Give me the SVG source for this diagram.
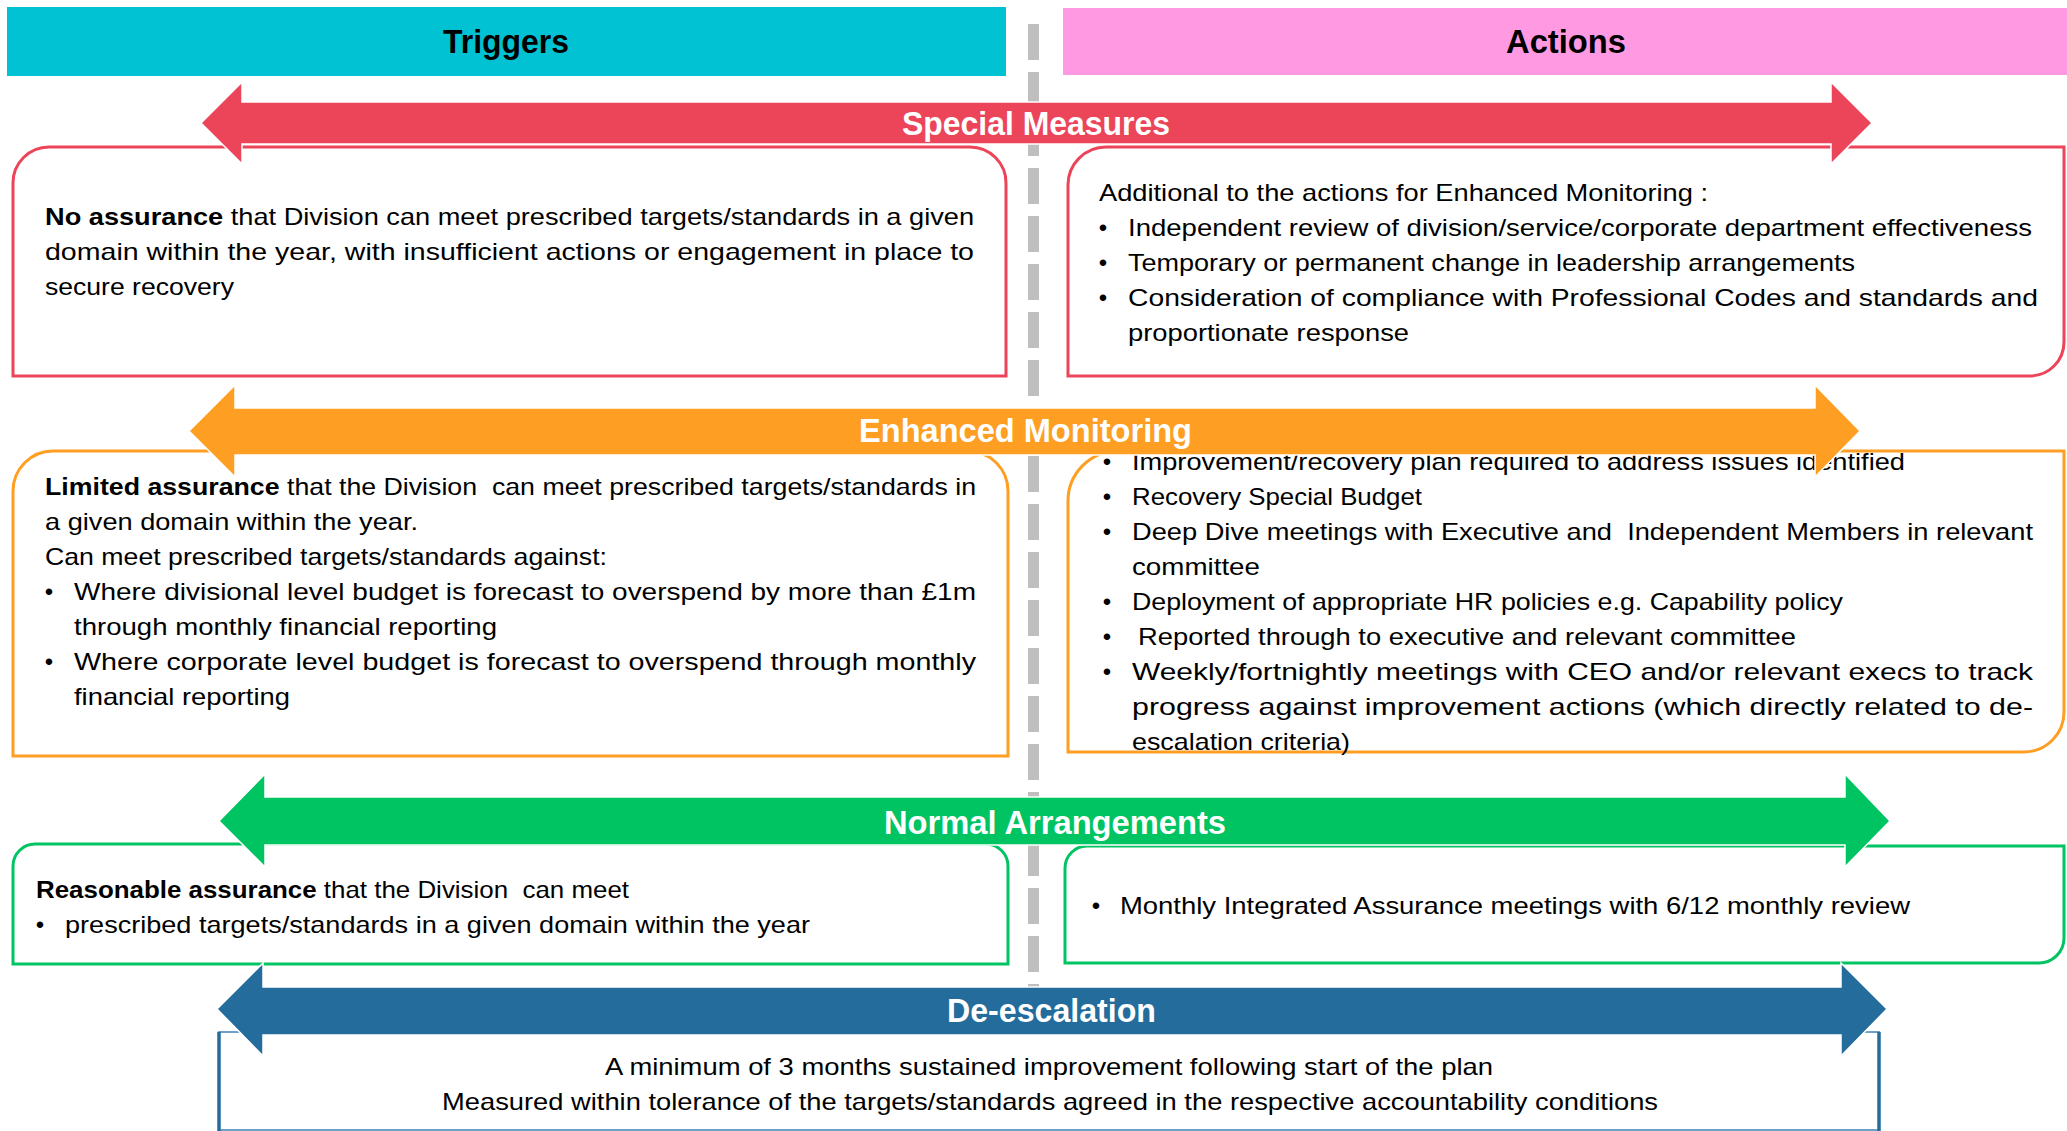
<svg xmlns="http://www.w3.org/2000/svg" width="2067" height="1131" viewBox="0 0 2067 1131">
  <style>
    .t { font-family: "Liberation Sans", Arial, sans-serif; font-size: 24px; fill: #000; }
    .b { font-weight: bold; }
    .hd { font-family: "Liberation Sans", Arial, sans-serif; font-size: 33px; font-weight: bold; fill: #000; text-anchor: middle; }
    .lbl { font-family: "Liberation Sans", Arial, sans-serif; font-size: 33px; font-weight: bold; fill: #fff; text-anchor: middle; }
    .bul { font-family: "Liberation Sans", Arial, sans-serif; font-size: 24px; fill: #000; text-anchor: middle; }
    .box { fill: #fff; stroke-width: 3; }
    .arrow { stroke: #fff; stroke-width: 1.5; stroke-linejoin: miter; }
    .red { stroke: #EC4459; }
    .org { stroke: #FE9E22; }
    .grn { stroke: #00C462; }
  </style>

  <rect width="2067" height="1131" fill="#fff"/>

  <!-- column divider -->
  <line x1="1033.5" y1="24" x2="1033.5" y2="1030" stroke="#BFBFBF" stroke-width="11" stroke-dasharray="36 12"/>

  <!-- column headers -->
  <g id="header-triggers">
    <rect x="7" y="7" width="999" height="69" fill="#00C2D3"/>
    <text class="hd" x="506" y="53" textLength="126" lengthAdjust="spacingAndGlyphs">Triggers</text>
  </g>
  <g id="header-actions">
    <rect x="1063" y="8" width="1004" height="67" fill="#FF9AE2"/>
    <text class="hd" x="1566" y="53" textLength="120" lengthAdjust="spacingAndGlyphs">Actions</text>
  </g>

  <!-- Special Measures: triggers -->
  <g id="special-triggers">
    <path class="box red" d="M13,376 V183 A36,36 0 0 1 49,147 H970 A36,36 0 0 1 1006,183 V376 Z"/>
    <text class="t" x="45" y="225" textLength="929" lengthAdjust="spacingAndGlyphs"><tspan class="b">No assurance</tspan> that Division can meet prescribed targets/standards in a given</text>
    <text class="t" x="45" y="260" textLength="929" lengthAdjust="spacingAndGlyphs">domain within the year, with insufficient actions or engagement in place to</text>
    <text class="t" x="45" y="295" textLength="189" lengthAdjust="spacingAndGlyphs">secure recovery</text>
  </g>

  <!-- Special Measures: actions -->
  <g id="special-actions">
    <path class="box red" d="M1068,185 A38,38 0 0 1 1106,147 H2064 V342 A34,34 0 0 1 2030,376 H1068 Z"/>
    <text class="t" x="1099" y="201" textLength="609" lengthAdjust="spacingAndGlyphs">Additional to the actions for Enhanced Monitoring :</text>
    <text class="bul" x="1103" y="236">•</text>
    <text class="t" x="1128" y="236" textLength="904" lengthAdjust="spacingAndGlyphs">Independent review of division/service/corporate department effectiveness</text>
    <text class="bul" x="1103" y="271">•</text>
    <text class="t" x="1128" y="271" textLength="727" lengthAdjust="spacingAndGlyphs">Temporary or permanent change in leadership arrangements</text>
    <text class="bul" x="1103" y="306">•</text>
    <text class="t" x="1128" y="306" textLength="910" lengthAdjust="spacingAndGlyphs">Consideration of compliance with Professional Codes and standards and</text>
    <text class="t" x="1128" y="341" textLength="281" lengthAdjust="spacingAndGlyphs">proportionate response</text>
  </g>

  <!-- Enhanced Monitoring: triggers -->
  <g id="enhanced-triggers">
    <path class="box org" d="M13,756 V491 A40,40 0 0 1 53,451 H968 A40,40 0 0 1 1008,491 V756 Z"/>
    <text class="t" x="45" y="495" textLength="931" lengthAdjust="spacingAndGlyphs" xml:space="preserve"><tspan class="b">Limited assurance</tspan> that the Division  can meet prescribed targets/standards in</text>
    <text class="t" x="45" y="530" textLength="373" lengthAdjust="spacingAndGlyphs">a given domain within the year.</text>
    <text class="t" x="45" y="565" textLength="562" lengthAdjust="spacingAndGlyphs">Can meet prescribed targets/standards against:</text>
    <text class="bul" x="49" y="600">•</text>
    <text class="t" x="74" y="600" textLength="902" lengthAdjust="spacingAndGlyphs">Where divisional level budget is forecast to overspend by more than £1m</text>
    <text class="t" x="74" y="635" textLength="423" lengthAdjust="spacingAndGlyphs">through monthly financial reporting</text>
    <text class="bul" x="49" y="670">•</text>
    <text class="t" x="74" y="670" textLength="902" lengthAdjust="spacingAndGlyphs">Where corporate level budget is forecast to overspend through monthly</text>
    <text class="t" x="74" y="705" textLength="216" lengthAdjust="spacingAndGlyphs">financial reporting</text>
  </g>

  <!-- Enhanced Monitoring: actions -->
  <g id="enhanced-actions">
    <path class="box org" d="M1068,501 A50,50 0 0 1 1118,451 H2064 V712 A40,40 0 0 1 2024,752 H1068 Z"/>
    <text class="bul" x="1107" y="470">•</text>
    <text class="t" x="1132" y="470" textLength="773" lengthAdjust="spacingAndGlyphs">Improvement/recovery plan required to address issues identified</text>
    <text class="bul" x="1107" y="505">•</text>
    <text class="t" x="1132" y="505" textLength="290" lengthAdjust="spacingAndGlyphs">Recovery Special Budget</text>
    <text class="bul" x="1107" y="540">•</text>
    <text class="t" x="1132" y="540" textLength="901" lengthAdjust="spacingAndGlyphs" xml:space="preserve">Deep Dive meetings with Executive and  Independent Members in relevant</text>
    <text class="t" x="1132" y="575" textLength="128" lengthAdjust="spacingAndGlyphs">committee</text>
    <text class="bul" x="1107" y="610">•</text>
    <text class="t" x="1132" y="610" textLength="711" lengthAdjust="spacingAndGlyphs">Deployment of appropriate HR policies e.g. Capability policy</text>
    <text class="bul" x="1107" y="645">•</text>
    <text class="t" x="1138" y="645" textLength="658" lengthAdjust="spacingAndGlyphs">Reported through to executive and relevant committee</text>
    <text class="bul" x="1107" y="680">•</text>
    <text class="t" x="1132" y="680" textLength="901" lengthAdjust="spacingAndGlyphs">Weekly/fortnightly meetings with CEO and/or relevant execs to track</text>
    <text class="t" x="1132" y="715" textLength="901" lengthAdjust="spacingAndGlyphs">progress against improvement actions (which directly related to de-</text>
    <text class="t" x="1132" y="750" textLength="218" lengthAdjust="spacingAndGlyphs">escalation criteria)</text>
  </g>

  <!-- Normal Arrangements: triggers -->
  <g id="normal-triggers">
    <path class="box grn" d="M13,964 V866 A22,22 0 0 1 35,844 H986 A22,22 0 0 1 1008,866 V964 Z"/>
    <text class="t" x="36" y="898" textLength="593" lengthAdjust="spacingAndGlyphs" xml:space="preserve"><tspan class="b">Reasonable assurance</tspan> that the Division  can meet</text>
    <text class="bul" x="40" y="933">•</text>
    <text class="t" x="65" y="933" textLength="745" lengthAdjust="spacingAndGlyphs">prescribed targets/standards in a given domain within the year</text>
  </g>

  <!-- Normal Arrangements: actions -->
  <g id="normal-actions">
    <path class="box grn" d="M1065,868 A22,22 0 0 1 1087,846 H2064 V938 A25,25 0 0 1 2039,963 H1065 Z"/>
    <text class="bul" x="1096" y="914">•</text>
    <text class="t" x="1120" y="914" textLength="790" lengthAdjust="spacingAndGlyphs">Monthly Integrated Assurance meetings with 6/12 monthly review</text>
  </g>

  <!-- De-escalation criteria -->
  <g id="deescalation-box">
    <rect x="218" y="1032" width="1662" height="98" fill="#fff"/>
    <line x1="218" y1="1032" x2="1880" y2="1032" stroke="#6FA0C8" stroke-width="2"/>
    <line x1="218" y1="1130" x2="1880" y2="1130" stroke="#6FA0C8" stroke-width="2"/>
    <line x1="219" y1="1032" x2="219" y2="1131" stroke="#236C9C" stroke-width="3.5"/>
    <line x1="1879" y1="1032" x2="1879" y2="1131" stroke="#236C9C" stroke-width="3.5"/>
    <text class="t" x="1049" y="1075" text-anchor="middle" textLength="888" lengthAdjust="spacingAndGlyphs">A minimum of 3 months sustained improvement following start of the plan</text>
    <text class="t" x="1050" y="1110" text-anchor="middle" textLength="1216" lengthAdjust="spacingAndGlyphs">Measured within tolerance of the targets/standards agreed in the respective accountability conditions</text>
  </g>

  <!-- level arrows -->
  <g id="connectors">
    <g id="arrow-special">
      <polygon class="arrow" fill="#EC4459" points="201,123 242,82 242,102 1831,102 1831,82 1872,123 1831,164 1831,144 242,144 242,164"/>
      <text class="lbl" x="1036" y="135" textLength="268" lengthAdjust="spacingAndGlyphs">Special Measures</text>
    </g>
    <g id="arrow-enhanced">
      <polygon class="arrow" fill="#FE9E22" points="189,431 235,385 235,408 1815,408 1815,385 1860,431 1815,477 1815,455 235,455 235,477"/>
      <text class="lbl" x="1025.5" y="442" textLength="333" lengthAdjust="spacingAndGlyphs">Enhanced Monitoring</text>
    </g>
    <g id="arrow-normal">
      <polygon class="arrow" fill="#00C462" points="219,821 265,774 265,797 1845,797 1845,774 1890,821 1845,867 1845,845 265,845 265,867"/>
      <text class="lbl" x="1055" y="834" textLength="342" lengthAdjust="spacingAndGlyphs">Normal Arrangements</text>
    </g>
    <g id="arrow-deescalation">
      <polygon class="arrow" fill="#236C9C" points="217,1009 263,963 263,987 1841,987 1841,963 1887,1009 1841,1056 1841,1035 263,1035 263,1056"/>
      <text class="lbl" x="1051.5" y="1022" textLength="209" lengthAdjust="spacingAndGlyphs">De-escalation</text>
    </g>
  </g>
</svg>
